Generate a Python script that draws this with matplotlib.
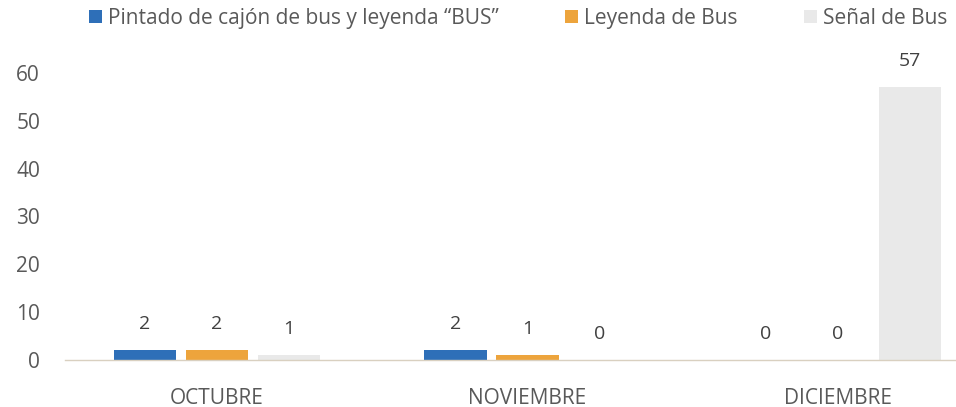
import numpy as np
import matplotlib
matplotlib.use('Agg')
import matplotlib.pyplot as plt

plt.rcParams['font.family'] = ['Open Sans', 'DejaVu Sans']

months = ['OCTUBRE', 'NOVIEMBRE', 'DICIEMBRE']
series = ['Pintado de cajón de bus y leyenda “BUS”', 'Leyenda de Bus', 'Señal de Bus']
pintado = [2, 2, 0]
leyenda = [2, 1, 0]
senal = [1, 0, 57]
colors = ['#2E6FB8', '#EDA43C', '#E9E9E9']

fig = plt.figure(figsize=(9.56, 4.07), dpi=100)
# plot area runs past the right edge of the picture (cropped scan)
ax = fig.add_axes([65/956, 1-360/407, (990-65)/956, (360-73)/407])

x = np.arange(len(months))
step = 0.232
width = 0.2
for i, (vals, c) in enumerate(zip([pintado, leyenda, senal], colors)):
    pos = x + (i - 1) * step
    ax.bar(pos, vals, width, color=c, label=series[i], zorder=2)
    for p, v in zip(pos, vals):
        ax.annotate(str(v), (p, v), xytext=(0, 19), textcoords='offset points',
                    ha='center', va='center', fontsize=14, color='#404040',
                    annotation_clip=False)

ax.set_xlim(-0.49, 2.49)
ax.set_ylim(0, 60)
ax.set_yticks(range(0, 61, 10))
ax.set_xticks(x)
ax.set_xticklabels(months)
ax.tick_params(axis='both', length=0, labelsize=15, colors='#595959')
ax.tick_params(axis='x', pad=20)
ax.tick_params(axis='y', pad=18)
for s in ['top', 'right', 'left']:
    ax.spines[s].set_visible(False)
ax.spines['bottom'].set_color('#d9d0c0')
ax.spines['bottom'].set_linewidth(1.0)

handles, labels = ax.get_legend_handles_labels()
leg = fig.legend(handles, labels, loc='center', bbox_to_anchor=(0.542, 0.955), ncol=3,
                 frameon=False, fontsize=15, handlelength=0.6, handleheight=0.6,
                 handletextpad=0.3, columnspacing=3.2)
for t in leg.get_texts():
    t.set_color('#595959')

fig.savefig('out.png', dpi=100)
